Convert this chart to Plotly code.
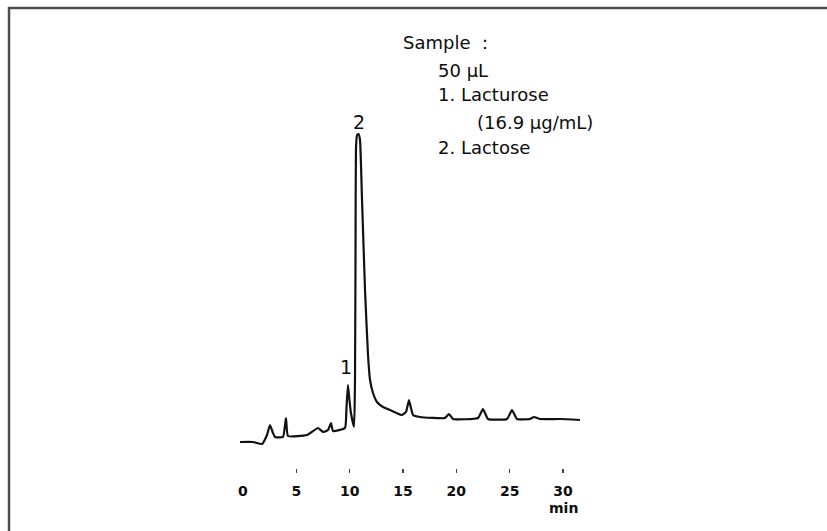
import plotly.graph_objects as go

# Retention time (min) and detector signal (arbitrary units)
time_min = [-0.28, 0.94, 1.78, 2.25, 2.53, 2.81, 3.0, 3.75, 4.03, 4.22,
            6.0, 7.03, 7.5, 7.97, 8.25, 8.44, 9.56, 9.7, 9.84, 9.98,
            10.12, 10.41, 10.5, 10.55, 10.59, 10.69, 10.83, 10.97, 11.16, 11.44,
            11.72, 11.91, 12.19, 12.56, 13.12, 13.78, 14.91, 15.28, 15.56, 15.75,
            15.94, 16.59, 18.94, 19.31, 19.69, 22.03, 22.5, 22.97, 24.75, 25.22,
            25.69, 26.9, 27.28, 27.84, 29.72, 31.59]
signal = [5.2, 5.2, 4.8, 6.6, 8.6, 7.0, 6.2, 6.2, 10.0, 6.4,
          6.6, 8.0, 7.2, 7.6, 9.0, 7.4, 8.0, 12.0, 16.6, 13.6,
          11.0, 8.2, 17.6, 43.6, 63.6, 66.6, 66.8, 65.6, 53.6, 35.6,
          22.6, 17.6, 15.0, 13.2, 12.2, 11.6, 10.6, 11.2, 13.6, 12.0,
          10.6, 10.2, 10.0, 10.8, 9.8, 10.0, 11.8, 9.8, 9.8, 11.6,
          9.8, 9.8, 10.2, 9.8, 9.8, 9.6]

tick_vals = [0, 5, 10, 15, 20, 25, 30]
tick_text = ["0", "5", "10", "15", "20", "25", "30"]
tick_mark_vals = [5, 10, 15, 20, 25, 30]

peak_labels = ["1", "2"]
peak_label_t = [9.66, 10.87]
peak_label_s = [20.2, 69.2]

legend_lines = ["Sample ：", "50 μL", "1. Lacturose", "(16.9 μg/mL)", "2. Lactose"]

INK = "#0d0d0d"
FONT = "DejaVu Sans"
X_RANGE = [-22.78, 54.75]

fig = go.Figure()
fig.add_trace(go.Scatter(x=time_min, y=signal, mode="lines",
                         line=dict(color="#111111", width=2.2, shape="spline", smoothing=0.4),
                         showlegend=False, hoverinfo="skip"))
# carrier trace so the tick-mark axis is drawn
fig.add_trace(go.Scatter(x=[0], y=[None], xaxis="x2", yaxis="y", mode="markers",
                         showlegend=False, hoverinfo="skip"))

annotations = []
for lab, t, s in zip(peak_labels, peak_label_t, peak_label_s):
    annotations.append(dict(x=t, y=s, xref="x", yref="y", text=lab, showarrow=False,
                            font=dict(family=FONT, size=19, color=INK),
                            xanchor="center", yanchor="middle"))

legend_x = [0.4849, 0.5272, 0.5272, 0.5744, 0.5272]
legend_y = [0.926, 0.865, 0.811, 0.752, 0.696]
for txt, lx, ly in zip(legend_lines, legend_x, legend_y):
    annotations.append(dict(x=lx, y=ly, xref="paper", yref="paper", text=txt,
                            showarrow=False, xanchor="left", yanchor="middle",
                            font=dict(family=FONT, size=18, color=INK)))

annotations.append(dict(x=30, y=-0.087, xref="x", yref="paper", text="<b>min</b>",
                        showarrow=False, xanchor="center", yanchor="middle",
                        font=dict(family=FONT, size=14, color=INK)))

fig.update_layout(
    width=827, height=531,
    margin=dict(l=0, r=0, t=8, b=63),
    paper_bgcolor="white", plot_bgcolor="white",
    hovermode=False,
    xaxis=dict(range=X_RANGE, tickvals=tick_vals, ticktext=tick_text,
               ticks="", showgrid=False, zeroline=False, showline=False,
               tickfont=dict(family=FONT, size=14, color=INK, weight="bold"),
               ticklabelstandoff=13, fixedrange=True),
    xaxis2=dict(overlaying="x", range=X_RANGE, side="bottom", tickvals=tick_mark_vals,
                showticklabels=False, ticks="outside", ticklen=4, tickwidth=1.5,
                tickcolor="#444444", showgrid=False, zeroline=False, showline=False,
                fixedrange=True),
    yaxis=dict(range=[0, 92], visible=False, fixedrange=True),
    annotations=annotations,
    shapes=[dict(type="path", xref="paper", yref="paper",
                 path="M 0.0109 -0.15 L 0.0109 1.0 L 1.01 1.0",
                 line=dict(color="#4d4d4d", width=2.5))],
)

fig.write_html("out.html",
               config={"displayModeBar": False, "staticPlot": True},
               post_script="document.body.style.margin='0px';document.body.style.padding='0px';")
